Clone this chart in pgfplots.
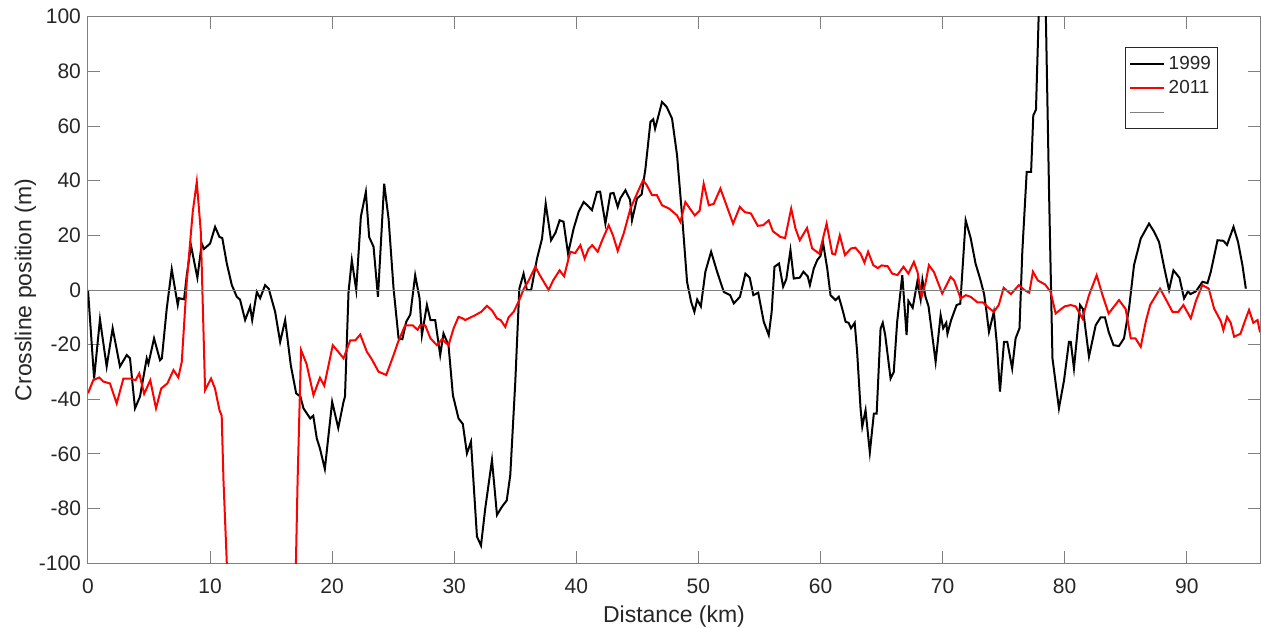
\documentclass[border=0pt]{standalone}
\usepackage{fontspec}
\setmainfont{Liberation Sans}
\usepackage{pgfplots}
\pgfplotsset{compat=1.18}
\definecolor{txt}{HTML}{262626}
\definecolor{axgray}{HTML}{808080}
\begin{document}
\begin{tikzpicture}
\begin{axis}[
  scale only axis, width=586pt, height=273.3pt,
  xmin=0, xmax=96, ymin=-100, ymax=100,
  xtick={0,10,...,90}, ytick={-100,-80,...,100},
  tick align=inside, tick pos=both,
  major tick length=6pt,
  axis line style={axgray, line width=0.5pt},
  every tick/.style={axgray, line width=0.5pt},
  tick label style={font=\fontsize{10.5}{12}\selectfont, text=txt},
  xticklabel style={yshift=-4.3pt},
  /pgf/number format/assume math mode=true,
  label style={font=\fontsize{11.5}{13}\selectfont, text=txt},
  xlabel={Distance (km)}, ylabel={Crossline position (m)},
  ylabel shift=-5.5pt, xlabel shift=-1pt,
  legend style={at={(rel axis cs:0.9644,0.944)}, anchor=north east,
    draw=txt, line width=0.5pt, fill=white,
    font=\fontsize{9.45}{11}\selectfont, text=txt,
    inner xsep=1.5pt, inner ysep=2pt, row sep=0pt,
    cells={anchor=west}},
  legend cell align=left,
]
\coordinate (ll) at (rel axis cs:0,0);
\coordinate (ur) at (rel axis cs:1,1);
\addplot[black, line width=1pt] coordinates {
(0,0) (0.5,-32.4) (0.98,-10.7) (1.53,-28) (2.02,-14) (2.62,-28) (3.17,-23.8) (3.44,-25)
(3.85,-43.3) (4.26,-39) (4.81,-25) (4.95,-27) (5.41,-17.7) (5.9,-25.7) (6.05,-25) (6.45,-6.8)
(6.86,7.6) (7.35,-5.5) (7.45,-3) (7.87,-3.4) (8.09,5.4) (8.44,16.2) (8.96,4.5) (9.32,17)
(9.5,15) (10.0,17) (10.41,23.1) (10.77,19.4) (11.0,19) (11.37,9.7) (11.78,1.8) (12.19,-2.5)
(12.45,-3.5) (12.87,-11) (13.28,-6.1) (13.45,-11) (13.83,-0.7) (14.1,-3) (14.51,1.8) (14.8,0.5)
(15.33,-8) (15.74,-19) (16.15,-11) (16.61,-27.5) (17.05,-37.8) (17.4,-39) (17.65,-43.3) (18.2,-47)
(18.45,-46) (18.74,-54.3) (19.0,-58) (19.4,-65.5) (20.0,-40.9) (20.5,-50.5) (20.93,-40.9) (21.05,-39)
(21.34,-0.7) (21.61,10.9) (21.97,0) (22.35,26.8) (22.76,35.9) (23.03,19.4) (23.39,15.8) (23.75,-2.5)
(24.26,38.9) (24.62,26.1) (25.03,0.5) (25.44,-17.7) (25.75,-18) (26.07,-11.6) (26.4,-9) (26.8,5.4)
(27.16,-3.1) (27.35,-16.5) (27.76,-5.5) (28.05,-11) (28.44,-11) (28.85,-23.8) (29.12,-15.9) (29.53,-20.2)
(29.89,-38.5) (30.35,-47) (30.7,-49) (31.04,-59.8) (31.37,-55.5) (31.86,-90.2) (32.19,-93.5) (32.54,-79.9)
(33.09,-62.2) (33.5,-82.3) (33.91,-79.3) (34.3,-77) (34.59,-67.7) (35.0,-33.6) (35.33,0.5) (35.68,6)
(35.95,0) (36.3,0) (36.78,11.5) (37.19,18.8) (37.49,31.6) (37.93,18.2) (38.3,21) (38.63,25.5)
(38.95,25) (39.32,13.3) (39.78,22.5) (40.19,28.6) (40.6,32.2) (40.9,31) (41.28,29.2) (41.69,35.9)
(41.95,36) (42.38,24.3) (42.79,35.3) (43.05,35.5) (43.39,30.4) (43.6,33.5) (44.02,36.5) (44.4,33)
(44.56,25.5) (44.97,33.5) (45.35,35) (45.66,44.4) (46.07,61.5) (46.3,62.5) (46.45,59) (47.02,68.8)
(47.4,67) (47.84,62.7) (48.25,49.3) (48.66,27.3) (49.07,3) (49.4,-4.3) (49.67,-8) (49.9,-3.5)
(50.2,-6) (50.57,6.7) (51.04,14) (51.53,6.7) (52.08,-0.7) (52.6,-1.9) (52.9,-4.9) (53.4,-2.5)
(53.85,6) (54.2,4.5) (54.5,-1.9) (54.9,-1) (55.35,-11.6) (55.76,-16.5) (56.0,-8) (56.23,8.5)
(56.6,9.7) (56.94,1.2) (57.2,4) (57.54,14.6) (57.81,4.2) (58.3,4.5) (58.6,6.7) (58.95,5)
(59.13,1.8) (59.45,7.9) (59.73,10.9) (60.0,12.5) (60.22,17) (60.55,7.9) (60.82,-1.9) (61.23,-3.7)
(61.5,-2.5) (61.78,-6.8) (62.05,-11.6) (62.3,-12) (62.5,-14) (62.8,-12) (63.0,-22.6) (63.28,-43.3)
(63.42,-50) (63.69,-44) (64.04,-59.4) (64.37,-45.2) (64.6,-45.2) (64.92,-14.1) (65.1,-12) (65.3,-16.5)
(65.74,-32.4) (66.0,-30) (66.28,-11.6) (66.7,5.4) (67.05,-16.5) (67.2,-4) (67.55,-6.5) (67.93,3)
(68.2,-3.5) (68.35,3.7) (68.6,-2.5) (68.85,-6) (69.43,-26.3) (69.84,-9.2) (70.05,-14) (70.3,-12)
(70.4,-16) (70.7,-11) (71.15,-5.5) (71.45,-5) (71.89,25.5) (72.3,19) (72.7,9.7) (73.1,3.7)
(73.4,-1.5) (73.6,-8) (73.8,-15.3) (74.2,-8) (74.45,-20) (74.7,-37.2) (75.03,-19) (75.3,-19)
(75.7,-28.7) (75.98,-17.7) (76.3,-14) (76.53,14) (76.89,43.2) (77.25,43.2) (77.43,63.9) (77.65,66)
(77.9,105) (78.44,105) (78.72,35.9) (79.0,-25) (79.53,-43.3) (79.95,-33) (80.35,-19) (80.5,-19)
(80.76,-28.7) (81.26,-5.5) (81.5,-7) (81.99,-24.4) (82.54,-12.9) (82.95,-10) (83.3,-10) (83.6,-15.3)
(84.0,-20.2) (84.45,-20.5) (84.86,-17.7) (85.27,-6.8) (85.68,9.1) (86.23,18.8) (86.91,24.3) (87.3,21.5)
(87.73,17.6) (88.14,8.5) (88.55,0) (88.91,7.2) (89.4,4.5) (89.78,-3.1) (90.1,-0.5) (90.3,-1.5)
(90.75,-0.5) (91.29,3) (91.7,2.5) (91.97,6.7) (92.52,18.2) (93.0,18) (93.3,16.5) (93.83,23.1)
(94.2,17.6) (94.56,9.1) (94.84,0.5)
};
\addlegendentry{1999}
\addplot[red, line width=1pt] coordinates {
(0,-37.8) (0.43,-33) (0.92,-32) (1.25,-33.5) (1.8,-34.2) (2.35,-41.5) (2.9,-32.4) (3.5,-32.4)
(3.9,-33) (4.2,-30.5) (4.6,-38) (5.1,-33) (5.57,-43.3) (6.0,-36) (6.5,-34.2) (7.0,-29.3)
(7.4,-32) (7.68,-26.3) (8.09,3) (8.58,28.6) (8.91,39.6) (9.24,21.3) (9.59,-36.6) (10.08,-32.4)
(10.4,-36) (10.77,-44) (10.95,-46) (11.1,-70) (11.37,-100) (11.6,-140) (16.9,-140) (17.03,-100)
(17.17,-69.5) (17.45,-22) (17.9,-27) (18.47,-38.5) (19.0,-32.1) (19.35,-35) (20.05,-20.2) (20.5,-22.6)
(20.93,-25) (21.48,-18.4) (21.9,-18.4) (22.3,-16.3) (22.84,-22.6) (23.2,-25) (23.8,-29.9) (24.43,-31.1)
(25.03,-23.8) (25.4,-19) (25.98,-12.9) (26.6,-12.9) (27.0,-14.6) (27.2,-12.9) (27.62,-12.9) (28.05,-17.7)
(28.58,-20.2) (29.0,-18) (29.53,-20.2) (29.95,-14) (30.35,-9.8) (30.7,-10.4) (30.9,-11) (31.72,-9.2)
(32.2,-8) (32.68,-5.8) (33.1,-7.5) (33.5,-10.4) (33.8,-11) (34.18,-13.5) (34.45,-10) (34.86,-8)
(35.27,-4.3) (35.7,0.5) (36.1,3.5) (36.64,8.5) (37.0,5.5) (37.73,0) (38.1,3.5) (38.63,7.2)
(39.0,5) (39.5,14) (39.9,13.5) (40.33,16.4) (40.68,11.5) (41.0,15) (41.3,16.4) (41.75,14)
(42.1,18) (42.65,23.7) (43.0,20) (43.39,14.3) (43.9,21) (44.43,29.8) (44.97,35.3) (45.46,40.1)
(45.75,38.5) (46.2,34.7) (46.6,34.7) (47.02,31) (47.6,29.8) (48.25,27.3) (48.52,24.9) (48.93,32.2)
(49.3,29.8) (49.7,27.3) (50.1,29) (50.43,38.9) (50.85,31) (51.25,31.5) (51.8,37.1) (52.2,32.2)
(52.84,24.3) (53.39,30.4) (53.8,28.5) (54.3,28) (54.86,23.5) (55.3,23.7) (55.76,25.5) (56.1,21.5)
(56.72,19.4) (57.1,19) (57.6,29.8) (57.95,22.5) (58.3,18.2) (58.9,22.7) (59.32,15.2) (59.9,13.3)
(60.5,24.3) (60.96,13.3) (61.2,13) (61.58,20) (62.0,12.8) (62.5,15.2) (62.85,15.5) (63.28,13.3)
(63.6,10) (63.9,14) (64.32,9.1) (64.7,8) (65.0,9) (65.5,8.7) (65.87,6) (66.3,5.5)
(66.8,8.5) (67.2,6) (67.65,10.3) (67.95,6.5) (68.28,-2.5) (68.6,2.5) (68.88,9.1) (69.3,6.5)
(69.97,-1.3) (70.66,4.8) (70.95,3.5) (71.48,-3.1) (71.9,-1.9) (72.3,-2.5) (72.85,-4.5) (73.3,-4.5)
(73.66,-6.1) (74.2,-8) (74.6,-5.5) (75.0,0.8) (75.6,-1.5) (76.25,1.8) (76.7,0) (77.1,-1)
(77.4,6.7) (77.8,3.5) (78.4,2) (78.85,-0.7) (79.26,-8.6) (79.7,-7) (80.0,-6) (80.5,-5.5)
(80.9,-6) (81.45,-10.4) (81.99,-1.9) (82.62,5.4) (83.1,-1.9) (83.6,-8.6) (84.45,-3.7) (85.0,-7)
(85.41,-17.7) (85.8,-17.7) (86.23,-20.8) (86.64,-11.6) (87.0,-5.5) (87.81,0.5) (88.3,-3.5) (88.83,-8)
(89.3,-8) (89.73,-5.5) (90.33,-10.4) (90.75,-4) (91.28,1.8) (91.8,0.5) (92.24,-6.8) (92.8,-11.5)
(93.0,-14.7) (93.3,-9.8) (93.6,-12) (93.88,-17.1) (94.4,-16) (94.84,-10.4) (95.1,-7.3) (95.45,-12)
(95.8,-11) (96.0,-15.5)
};
\addlegendentry{2011}
\addplot[axgray, line width=0.5pt] coordinates {(0,0) (96,0)};
\addlegendentry{\vphantom{2011}}
\end{axis}
\pgfresetboundingbox
\path ([xshift=-44pt,yshift=-31.85pt]ll) rectangle ([xshift=1pt,yshift=8.35pt]ur);
\end{tikzpicture}
\end{document}
